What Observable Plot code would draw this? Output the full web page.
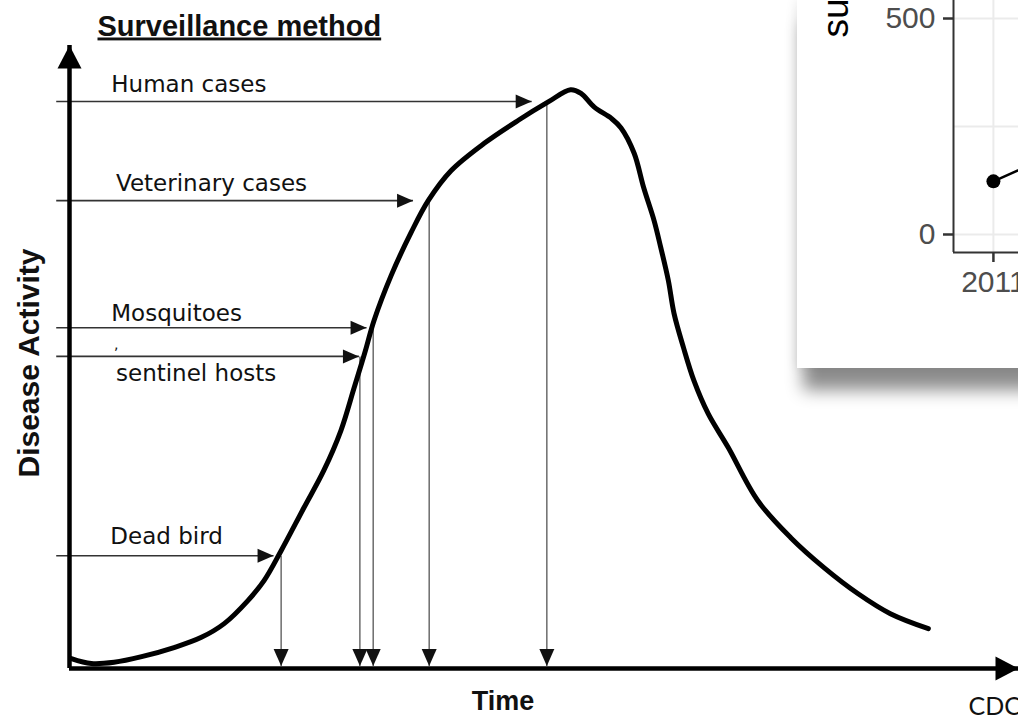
<!DOCTYPE html>
<html>
<head>
<meta charset="utf-8">
<script src="https://cdn.jsdelivr.net/npm/d3@7"></script>
<script src="https://cdn.jsdelivr.net/npm/@observablehq/plot@0.6"></script>
<style>
  html, body { margin: 0; padding: 0; background: #fff; overflow: hidden; width: 1018px; height: 718px; }
  #wrap { position: relative; width: 1018px; height: 718px; overflow: hidden; background: #fff; }
  #inset { position: absolute; left: 797px; top: 0px; width: 260px; height: 368px; background: #fff; overflow: hidden;
           box-shadow: 6px 22px 16px rgba(0,0,0,0.45), -2px 0 10px rgba(0,0,0,0.08); }
  #inset svg { max-width: none !important; width: 367px !important; height: 368px !important; }
  #inset g[aria-label$="tick"] path { stroke-width: 2.5px; stroke: #333; }
</style>
</head>
<body>
<div id="wrap"><div id="main"></div><div id="inset"></div></div>
<script>
// ---------- Main diagram data (time, activity in arbitrary 0–100 units) ----------
const xDomain = [0, 100];
const yDomain = [0, 100];
const curveTime = [0.2, 2.3, 4.7, 7.6, 11.1, 13.9, 16.3, 18.8, 20.5, 22.3, 24.7, 26.8, 28.6, 30.0, 31.1, 32.1,
  33.9, 36.0, 37.8, 40.2, 43.7, 47.3, 50.4, 52.8, 53.9, 55.3, 57.1, 58.1, 59.5, 60.5, 61.6, 62.3, 63.1, 63.7,
  64.7, 65.8, 67.3, 69.4, 72.5, 76.0, 79.5, 83.1, 86.5, 90.5];
const curveActivity = [1.6, 0.8, 1.0, 1.9, 3.4, 5.0, 7.2, 10.9, 14.1, 18.9, 25.8, 31.8, 38.2, 45.1, 50.6, 55.9,
  63.1, 70.0, 75.1, 79.9, 84.3, 88.0, 90.9, 92.9, 92.3, 90.1, 88.3, 86.8, 82.7, 77.2, 71.9, 67.6, 62.3, 57.0,
  51.5, 46.2, 40.9, 35.5, 27.0, 21.0, 16.2, 12.0, 8.8, 6.4];

const methods = ["Human cases", "Veterinary cases", "Mosquitoes", "sentinel hosts", "Dead bird"];
const methodActivity = [91.0, 75.1, 54.7, 50.1, 18.1];
const arrowTipTime = [48.7, 36.2, 31.3, 30.5, 21.5];
const dropTime = [50.3, 37.9, 32.0, 30.6, 22.3];
const labelTime = [4.4, 4.9, 4.4, 4.9, 4.3];
const labelActivity = [93.7, 77.8, 56.9, 47.3, 21.1];
const arrowStartTime = -1.4;
const dropEndActivity = 0.4;
const strayMarks = [{text: ",", time: 4.7, activity: 51.3}];

const titleText = "Surveillance method";
const yTitle = "Disease Activity";
const xTitle = "Time";
const credit = "CDC";

// ---------- Inset chart data ----------
const insetYears = [2011, 2012];
const insetValues = [123, 240];
const insetXTicks = [2011];
const insetYTicks = [0, 500];
const insetGrid = [0, 250, 500];
const insetXDomain = [2010.65, 2012.5];
const insetYDomain = [-41.7, 541.7];
const insetYTitle = "surveillance";

// ---------- Build tables ----------
const curve = curveTime.map((t, i) => ({t, a: curveActivity[i]}));
const arrows = methods.map((m, i) => ({
  method: m, level: methodActivity[i], tip: arrowTipTime[i], drop: dropTime[i],
  lx: labelTime[i], ly: labelActivity[i]
}));
const insetData = insetYears.map((y, i) => ({year: y, value: insetValues[i]}));

// Filled arrowhead symbols (tip at the anchor point)
const headRight = {draw(c) { c.moveTo(0, 0); c.lineTo(-16, -7); c.lineTo(-16, 7); c.closePath(); }};
const headDown = {draw(c) { c.moveTo(0, 0); c.lineTo(-7.5, -17); c.lineTo(7.5, -17); c.closePath(); }};
const headAxisUp = {draw(c) { c.moveTo(0, 0); c.lineTo(-12, 23); c.lineTo(12, 23); c.closePath(); }};
const headAxisRight = {draw(c) { c.moveTo(0, 0); c.lineTo(-23, -12); c.lineTo(-23, 12); c.closePath(); }};

const labelFont = "DejaVu Sans, Verdana, sans-serif";
const boldFont = "Liberation Sans, Arial, sans-serif";

const main = Plot.plot({
  width: 1018, height: 718,
  marginLeft: 69, marginRight: 0, marginTop: 45, marginBottom: 50,
  x: {domain: xDomain, axis: null},
  y: {domain: yDomain, axis: null},
  style: {background: "#fff", color: "#000", fontFamily: labelFont, fontSize: "23px"},
  marks: [
    // horizontal detection arrows
    Plot.link(arrows, {x1: () => arrowStartTime, x2: "tip", y1: "level", y2: "level", stroke: "#333", strokeWidth: 1.6}),
    Plot.dot(arrows, {x: "tip", y: "level", symbol: headRight, fill: "#111", stroke: "none"}),
    // vertical drop arrows
    Plot.link(arrows, {x1: "drop", x2: "drop", y1: "level", y2: () => dropEndActivity, stroke: "#555", strokeWidth: 1.3}),
    Plot.dot(arrows, {x: "drop", y: () => dropEndActivity, symbol: headDown, fill: "#111", stroke: "none"}),
    // axes
    Plot.ruleY([yDomain[0]], {x1: () => xDomain[0], x2: () => xDomain[1], stroke: "#000", strokeWidth: 4.5}),
    Plot.ruleX([xDomain[0]], {y1: () => yDomain[0], y2: () => yDomain[1], stroke: "#000", strokeWidth: 4.5}),
    Plot.dot([xDomain[1]], {x: d => d, y: () => yDomain[0], symbol: headAxisRight, fill: "#000", stroke: "none"}),
    Plot.dot([yDomain[1]], {x: () => xDomain[0], y: d => d, symbol: headAxisUp, fill: "#000", stroke: "none"}),
    // epidemic curve
    Plot.line(curve, {x: "t", y: "a", curve: "catmull-rom", stroke: "#000", strokeWidth: 5, strokeLinecap: "round", strokeLinejoin: "round"}),
    // labels
    Plot.text(arrows, {x: "lx", y: "ly", text: "method", textAnchor: "start", lineAnchor: "middle", fontSize: 23, fontFamily: labelFont, fill: "#111"}),
    Plot.text(strayMarks, {x: "time", y: "activity", text: "text", textAnchor: "start", lineAnchor: "bottom", fontSize: 14, fontFamily: labelFont, fill: "#111"}),
    Plot.text([titleText], {text: d => d, frameAnchor: "top-left", dx: 28, dy: -10, textAnchor: "start", lineAnchor: "bottom", fontSize: 29, fontWeight: "bold", fontFamily: boldFont, fill: "#111"}),
    Plot.text([yTitle], {text: d => d, frameAnchor: "left", dx: -40, dy: 6, rotate: -90, textAnchor: "middle", lineAnchor: "middle", fontSize: 30, fontWeight: "bold", fontFamily: boldFont, fill: "#111"}),
    Plot.text([xTitle], {text: d => d, frameAnchor: "bottom", dx: -41, dy: 33, textAnchor: "middle", lineAnchor: "middle", fontSize: 27, fontWeight: "bold", fontFamily: boldFont, fill: "#111"}),
    Plot.text([credit], {text: d => d, frameAnchor: "bottom-right", dx: -50, dy: 46, textAnchor: "start", lineAnchor: "bottom", fontSize: 25, fontFamily: "Lato, Open Sans, sans-serif", fill: "#111"})
  ]
});
document.getElementById("main").appendChild(main);
main.querySelectorAll("text").forEach(t => {
  if (t.textContent === titleText) t.style.textDecoration = "underline";
});

const inset = Plot.plot({
  width: 367, height: 368,
  marginLeft: 156, marginRight: 0, marginTop: 0, marginBottom: 116,
  x: {domain: insetXDomain, ticks: insetXTicks, tickFormat: "d", tickSize: 10, tickPadding: 8, label: null},
  y: {domain: insetYDomain, ticks: insetYTicks, tickSize: 10, tickPadding: 8, label: null},
  style: {background: "transparent", color: "#4d4d4d", fontFamily: boldFont, fontSize: "30px", overflow: "visible", maxWidth: "none"},
  marks: [
    Plot.ruleY(insetGrid, {stroke: "#ebebeb", strokeWidth: 2}),
    Plot.ruleX(insetXTicks, {stroke: "#ebebeb", strokeWidth: 2}),
    Plot.ruleX([insetXDomain[0]], {stroke: "#333", strokeWidth: 2}),
    Plot.ruleY([insetYDomain[0]], {stroke: "#333", strokeWidth: 2}),
    Plot.line(insetData, {x: "year", y: "value", stroke: "#000", strokeWidth: 2.5}),
    Plot.dot(insetData, {x: "year", y: "value", r: 7, fill: "#000", stroke: "none"}),
    Plot.text([insetYTitle], {text: d => d, frameAnchor: "top-left", dx: -106, dy: 37, rotate: -90, textAnchor: "start", lineAnchor: "bottom", fontSize: 37, fill: "#000"})
  ]
});
document.getElementById("inset").appendChild(inset);
</script>
</body>
</html>
